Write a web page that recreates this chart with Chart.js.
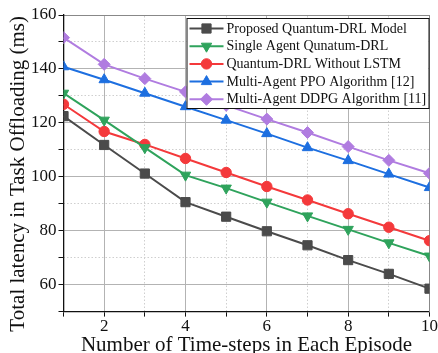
<!DOCTYPE html>
<html>
<head>
<meta charset="utf-8">
<script src="https://cdn.jsdelivr.net/npm/chart.js@4.4.0/dist/chart.umd.min.js"></script>
<style>
  html, body { margin: 0; padding: 0; background: #fff; overflow: hidden; }
  #wrap { position: relative; width: 438px; height: 356px; }
</style>
</head>
<body>
<div id="wrap"><canvas id="c"></canvas></div>
<script>
const timeSteps = [1, 2, 3, 4, 5, 6, 7, 8, 9, 10];
const seriesNames = [
  'Proposed Quantum-DRL Model',
  'Single Agent Qunatum-DRL',
  'Quantum-DRL Without LSTM',
  'Multi-Agent PPO Algorithm [12]',
  'Multi-Agent DDPG Algorithm [11]'
];
const proposed   = [122.5, 111.8, 101.2, 90.6, 85.2, 79.8, 74.6, 69.1, 64.0, 58.5];
const singleAgent= [131.0, 121.0, 110.8, 100.6, 95.8, 90.6, 85.5, 80.5, 75.5, 70.6];
const noLSTM     = [126.9, 116.8, 112.0, 106.8, 101.6, 96.4, 91.4, 86.3, 81.3, 76.3];
const ppo        = [140.8, 136.0, 131.0, 126.0, 121.0, 116.0, 110.8, 106.0, 101.0, 96.0];
const ddpg       = [151.6, 141.7, 136.4, 131.5, 126.5, 121.4, 116.4, 111.2, 106.1, 101.3];
const yTicks = [60, 80, 100, 120, 140, 160];

const colors = ['#4b4b4b', '#2fa35c', '#f4393b', '#1d6fe0', '#b07ce0'];
const styles = [
  {pointStyle: 'rect', rotation: 0, radius: 6.5},
  {pointStyle: 'triangle', rotation: 180, radius: 6},
  {pointStyle: 'circle', rotation: 0, radius: 5.2},
  {pointStyle: 'triangle', rotation: 0, radius: 6},
  {pointStyle: 'rectRot', rotation: 0, radius: 6}
];
const allSeries = [proposed, singleAgent, noLSTM, ppo, ddpg];

const FONT = "'Liberation Serif', 'Times New Roman', serif";

const datasets = allSeries.map((vals, i) => ({
  label: seriesNames[i],
  data: timeSteps.map((x, j) => ({x: x, y: vals[j]})),
  borderColor: colors[i],
  backgroundColor: colors[i],
  pointBackgroundColor: colors[i],
  pointBorderColor: colors[i],
  pointBorderWidth: 1,
  borderWidth: 2,
  pointStyle: styles[i].pointStyle,
  pointRotation: styles[i].rotation,
  pointRadius: styles[i].radius,
  pointHoverRadius: styles[i].radius,
  tension: 0,
  fill: false
}));

const legendPlugin = {
  id: 'insideLegend',
  afterDraw(chart) {
    const ctx = chart.ctx;
    const area = chart.chartArea;
    const w = 242, h = 90;
    const left = area.right - w - 1, top = area.top + 3;
    ctx.save();
    ctx.fillStyle = '#fff';
    ctx.fillRect(left, top, w, h);
    ctx.strokeStyle = '#111';
    ctx.lineWidth = 1;
    ctx.strokeRect(left + 0.5, top + 0.5, w, h);
    ctx.font = '14px ' + FONT;
    ctx.textBaseline = 'middle';
    ctx.textAlign = 'left';
    seriesNames.forEach((name, i) => {
      const y = top + 10.5 + i * 17.7;
      ctx.strokeStyle = colors[i];
      ctx.fillStyle = colors[i];
      ctx.lineWidth = 2;
      ctx.beginPath();
      ctx.moveTo(left + 3, y);
      ctx.lineTo(left + 37, y);
      ctx.stroke();
      ctx.lineWidth = 1;
      Chart.helpers.drawPoint(ctx, {
        pointStyle: styles[i].pointStyle,
        rotation: styles[i].rotation,
        radius: styles[i].radius,
        borderWidth: 1
      }, left + 20, y);
      ctx.fillStyle = '#111';
      ctx.fillText(name, left + 40, y + 0.5);
    });
    ctx.restore();
  }
};

new Chart(document.getElementById('c'), {
  type: 'line',
  data: { datasets: datasets },
  plugins: [legendPlugin],
  options: {
    responsive: true,
    maintainAspectRatio: false,
    animation: false,
    events: [],
    layout: { padding: { top: 15, right: 8, left: 0, bottom: 0 } },
    plugins: { legend: { display: false }, tooltip: { enabled: false } },
    scales: {
      x: {
        type: 'linear', position: 'bottom', min: 1, max: 10,
        ticks: {
          stepSize: 1, autoSkip: false, maxRotation: 0, padding: 0,
          color: '#111', font: { family: FONT, size: 17 },
          callback: v => (v % 2 === 0 ? String(v) : '')
        },
        grid: {
          color: c => (c.tick && c.tick.value % 2 === 0 && c.tick.value !== 10) ? '#b3b3b3' : 'rgba(0,0,0,0)',
          tickColor: '#111', tickLength: 5, lineWidth: 1
        },
        border: { display: true, color: '#111', width: 1.3 },
        title: {
          display: true, text: 'Number of Time-steps in Each Episode',
          color: '#111', font: { family: FONT, size: 21, lineHeight: 1 },
          padding: { top: -2, bottom: 0 }
        }
      },
      x2: {
        type: 'linear', position: 'top', min: 1, max: 10,
        ticks: { display: false, stepSize: 1 },
        grid: {
          drawTicks: false,
          color: c => (c.tick && c.tick.value % 2 === 1 && c.tick.value !== 1) ? '#cfcfcf' : 'rgba(0,0,0,0)'
        },
        border: { display: true, color: '#888', width: 1, dash: [1.5, 2] }
      },
      y: {
        type: 'linear', position: 'left', min: 50, max: 160,
        afterBuildTicks: s => { s.ticks = []; for (let v = 50; v <= 160; v += 10) s.ticks.push({value: v}); },
        ticks: {
          stepSize: 10, autoSkip: false, padding: 2,
          color: '#111', font: { family: FONT, size: 17 },
          callback: v => (yTicks.includes(v) ? String(v) : '')
        },
        grid: {
          color: c => (c.tick && yTicks.includes(c.tick.value) && c.tick.value !== 160) ? '#b3b3b3' : 'rgba(0,0,0,0)',
          tickColor: '#111', tickLength: 5, lineWidth: 1
        },
        border: { display: true, color: '#111', width: 1.3 },
        title: {
          display: true, text: 'Total latency in Task Offloading (ms)    ',
          color: '#111', font: { family: FONT, size: 21, lineHeight: 1 },
          padding: { top: 8, bottom: 0 }
        }
      },
      y2: {
        type: 'linear', position: 'right', min: 50, max: 160,
        afterBuildTicks: s => { s.ticks = []; for (let v = 50; v <= 160; v += 10) s.ticks.push({value: v}); },
        ticks: { display: false },
        grid: {
          drawTicks: false,
          color: c => (c.tick && c.tick.value % 20 === 10 && c.tick.value !== 50) ? '#cfcfcf' : 'rgba(0,0,0,0)'
        },
        border: { display: true, color: '#888', width: 1, dash: [1.5, 2] }
      }
    }
  }
});
</script>
</body>
</html>
